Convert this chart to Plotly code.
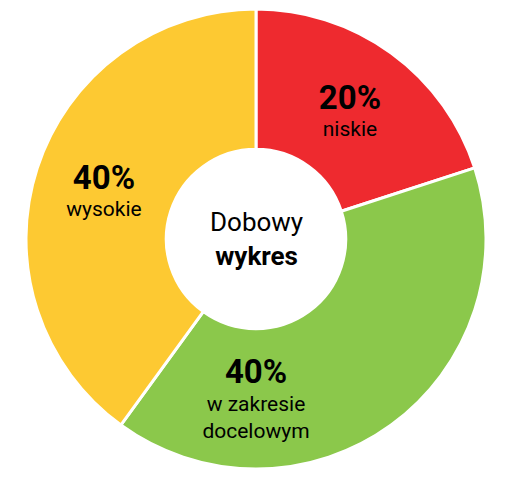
import plotly.graph_objects as go

# data
labels = ["niskie", "w zakresie<br>docelowym", "wysokie"]
values = [20, 40, 40]
colors = ["#ee2a2f", "#8bc84b", "#fdc932"]
center_lines = ["Dobowy", "wykres"]

texts = [
    "<span style='font-size:33px'><b>%d%%</b></span><br>%s" % (v, l)
    for v, l in zip(values, labels)
]

fig = go.Figure(
    go.Pie(
        values=values,
        text=texts,
        textinfo="text",
        textposition="inside",
        insidetextorientation="horizontal",
        hole=0.39,
        sort=False,
        direction="clockwise",
        rotation=0,
        marker=dict(colors=colors, line=dict(color="white", width=3)),
        textfont=dict(family="Roboto", size=21, color="black"),
        showlegend=False,
    )
)

fig.add_annotation(
    x=0.5, y=0.5, xref="paper", yref="paper", showarrow=False,
    text="%s<br><b>%s</b>" % tuple(center_lines),
    font=dict(family="Roboto", size=26, color="black"),
)

fig.update_layout(
    width=512, height=480,
    margin=dict(l=18, r=34, t=0, b=18),
    paper_bgcolor="white",
    uniformtext=dict(minsize=10, mode="show"),
)
fig.write_html("out.html")
